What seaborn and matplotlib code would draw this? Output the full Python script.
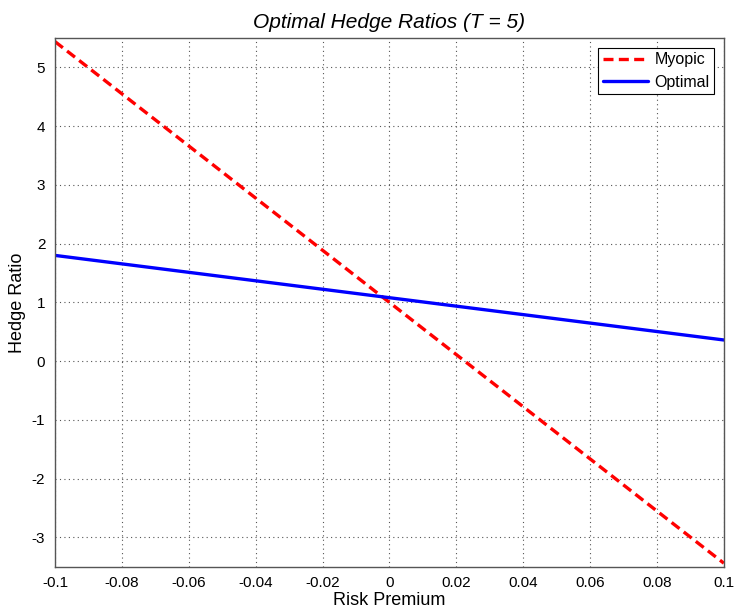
import matplotlib
matplotlib.use("Agg")
import matplotlib.pyplot as plt
import seaborn as sns
import pandas as pd

risk_premium = [-0.1, 0.1]
myopic = [5.44, -3.44]
optimal = [1.80, 0.36]

sns.set_theme(style="white", rc={"text.color": "black", "axes.labelcolor": "black",
                                 "xtick.color": "black", "ytick.color": "black"})
plt.rcParams['font.family'] = ['Liberation Sans', 'DejaVu Sans']
plt.rcParams['axes.unicode_minus'] = False

fig = plt.figure(figsize=(7.35, 6.14), dpi=100)
ax = fig.add_axes([0.0748, 0.077, 0.910, 0.861])

df = pd.DataFrame({
    "Risk Premium": risk_premium * 2,
    "Hedge Ratio": myopic + optimal,
    "Series": ["Myopic"] * len(myopic) + ["Optimal"] * len(optimal),
})
sns.lineplot(data=df, x="Risk Premium", y="Hedge Ratio", hue="Series", style="Series",
             palette={"Myopic": "#ff0000", "Optimal": "#0000ff"},
             dashes={"Myopic": (3, 1.6), "Optimal": ""}, linewidth=2.4, ax=ax)

ax.set_xlim(-0.1, 0.1)
ax.set_ylim(-3.5, 5.5)
xt = [-0.1, -0.08, -0.06, -0.04, -0.02, 0, 0.02, 0.04, 0.06, 0.08, 0.1]
ax.set_xticks(xt)
ax.set_xticklabels(["-0.1", "-0.08", "-0.06", "-0.04", "-0.02", "0", "0.02", "0.04", "0.06", "0.08", "0.1"])
ax.set_yticks(range(-3, 6))
ax.grid(True, linestyle=(0, (1, 3)), color="#555555", linewidth=0.8)
ax.tick_params(direction="in", length=5, labelsize=11, colors="#333333", labelcolor="black", pad=7)
for s in ax.spines.values():
    s.set_color("#555555")
    s.set_linewidth(1.0)
ax.set_xlabel("Risk Premium", fontsize=13, labelpad=1)
ax.set_ylabel("Hedge Ratio", fontsize=13, labelpad=4)
ax.set_title("Optimal Hedge Ratios (T = 5)", fontsize=15, style="italic", pad=7, color="black")

leg = ax.legend(loc="upper right", fontsize=11.5, frameon=True, fancybox=False,
                handlelength=2.8, borderpad=0.3, labelspacing=0.45, handletextpad=0.4,
                borderaxespad=0.6)
leg.get_frame().set_edgecolor("black")
leg.get_frame().set_linewidth(0.8)
leg.get_frame().set_alpha(1)

fig.savefig("out.png", dpi=100)
